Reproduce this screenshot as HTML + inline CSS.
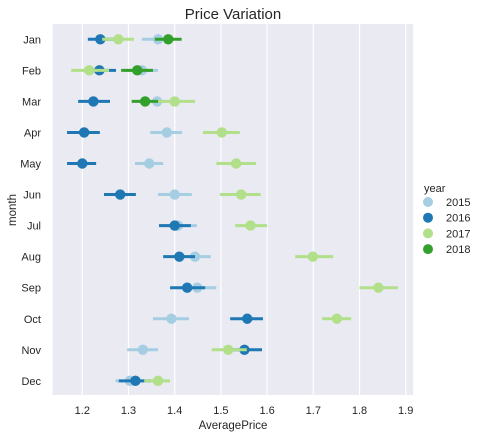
<!DOCTYPE html>
<html><head><meta charset="utf-8"><style>
body{margin:0;background:#fff;font-family:"Liberation Sans",Arial,sans-serif;}
svg text{font-family:"Liberation Sans",Arial,sans-serif;fill:#262626;}
</style></head><body>
<svg id="chart" width="483" height="437" xmlns="http://www.w3.org/2000/svg">
<rect x="52.7" y="24" width="360.5" height="371" fill="#eaeaf2"/>
<g id="grid"></g>
<g id="marks"></g>
<g id="axes"></g>
<text x="233" y="19" text-anchor="middle" font-size="15">Price Variation</text>
<text x="233" y="429" text-anchor="middle" font-size="11.5">AveragePrice</text>
<text transform="translate(16,210) rotate(-90)" text-anchor="middle" font-size="11.5">month</text>
<g id="legend"></g>
</svg>
<script>
const months=["Jan","Feb","Mar","Apr","May","Jun","Jul","Aug","Sep","Oct","Nov","Dec"];
const years=["2015","2016","2017","2018"];
const xTicks=[1.2,1.3,1.4,1.5,1.6,1.7,1.8,1.9];
const colors=["#a6cee3","#1f78b4","#b2df8a","#33a02c"];
// mean values per year (null = missing)
const mean2015=[1.364,1.329,1.362,1.383,1.345,1.400,1.407,1.444,1.449,1.393,1.331,1.303];
const mean2016=[1.239,1.237,1.224,1.204,1.200,1.282,1.400,1.410,1.427,1.557,1.551,1.315];
const mean2017=[1.278,1.215,1.400,1.502,1.533,1.544,1.564,1.699,1.841,1.751,1.516,1.364];
const mean2018=[1.386,1.319,1.336,null,null,null,null,null,null,null,null,null];
const lo2015=[1.329,1.297,1.343,1.347,1.314,1.364,1.370,1.410,1.410,1.353,1.297,1.272];
const hi2015=[1.386,1.364,1.380,1.416,1.375,1.437,1.448,1.478,1.490,1.431,1.364,1.336];
const lo2016=[1.212,1.211,1.191,1.167,1.167,1.247,1.366,1.375,1.390,1.520,1.515,1.279];
const hi2016=[1.275,1.273,1.260,1.238,1.230,1.316,1.435,1.444,1.466,1.591,1.589,1.349];
const lo2017=[1.243,1.176,1.364,1.461,1.490,1.498,1.531,1.661,1.800,1.719,1.480,1.334];
const hi2017=[1.312,1.258,1.444,1.541,1.576,1.586,1.600,1.743,1.883,1.782,1.556,1.390];
const lo2018=[1.357,1.284,1.307,null,null,null,null,null,null,null,null,null];
const hi2018=[1.415,1.353,1.364,null,null,null,null,null,null,null,null,null];
const means=[mean2015,mean2016,mean2017,mean2018],los=[lo2015,lo2016,lo2017,lo2018],his=[hi2015,hi2016,hi2017,hi2018];
const NS="http://www.w3.org/2000/svg";
const x=v=>82.3+(v-1.2)*462;
const y=i=>39.3+i*31.05;
function mk(t,a,p){const e=document.createElementNS(NS,t);for(const k in a)e.setAttribute(k,a[k]);p.appendChild(e);return e;}
const grid=document.getElementById('grid'),axes=document.getElementById('axes'),marks=document.getElementById('marks'),leg=document.getElementById('legend');
xTicks.forEach(t=>{
 const l=mk('line',{x1:x(t),x2:x(t),y1:24,y2:395,stroke:'#fff','stroke-width':1.2},grid);
 
 
 const tx=mk('text',{x:x(t),y:414,'text-anchor':'middle','font-size':11},axes);
 tx.textContent=t.toFixed(1);
 
 
});
months.forEach((m,i)=>{
 const tx=mk('text',{x:41,y:y(i)+4,'text-anchor':'end','font-size':11},axes);
 tx.textContent=m;
 
 
});
years.forEach((yr,s)=>{
 months.forEach((m,i)=>{
  const v=means[s][i];if(v==null)return;
  const l=mk('line',{x1:x(los[s][i]),x2:x(his[s][i]),y1:y(i),y2:y(i),stroke:colors[s],'stroke-width':3},marks);
  
  
  const c=mk('circle',{cx:x(v),cy:y(i),r:5.2,fill:colors[s]},marks);
  
  
 });
});
const tt=mk('text',{x:424,y:192,'font-size':11},leg);tt.textContent='year';


years.forEach((yr,s)=>{
 const cy=202+s*15.7;
 const g=mk('g',{},leg);
 
 
 mk('circle',{cx:428,cy:cy,r:5,fill:colors[s]},g);
 const t=mk('text',{x:446,y:cy+4,'font-size':11},g);t.textContent=yr;
});
</script>
</body></html>
